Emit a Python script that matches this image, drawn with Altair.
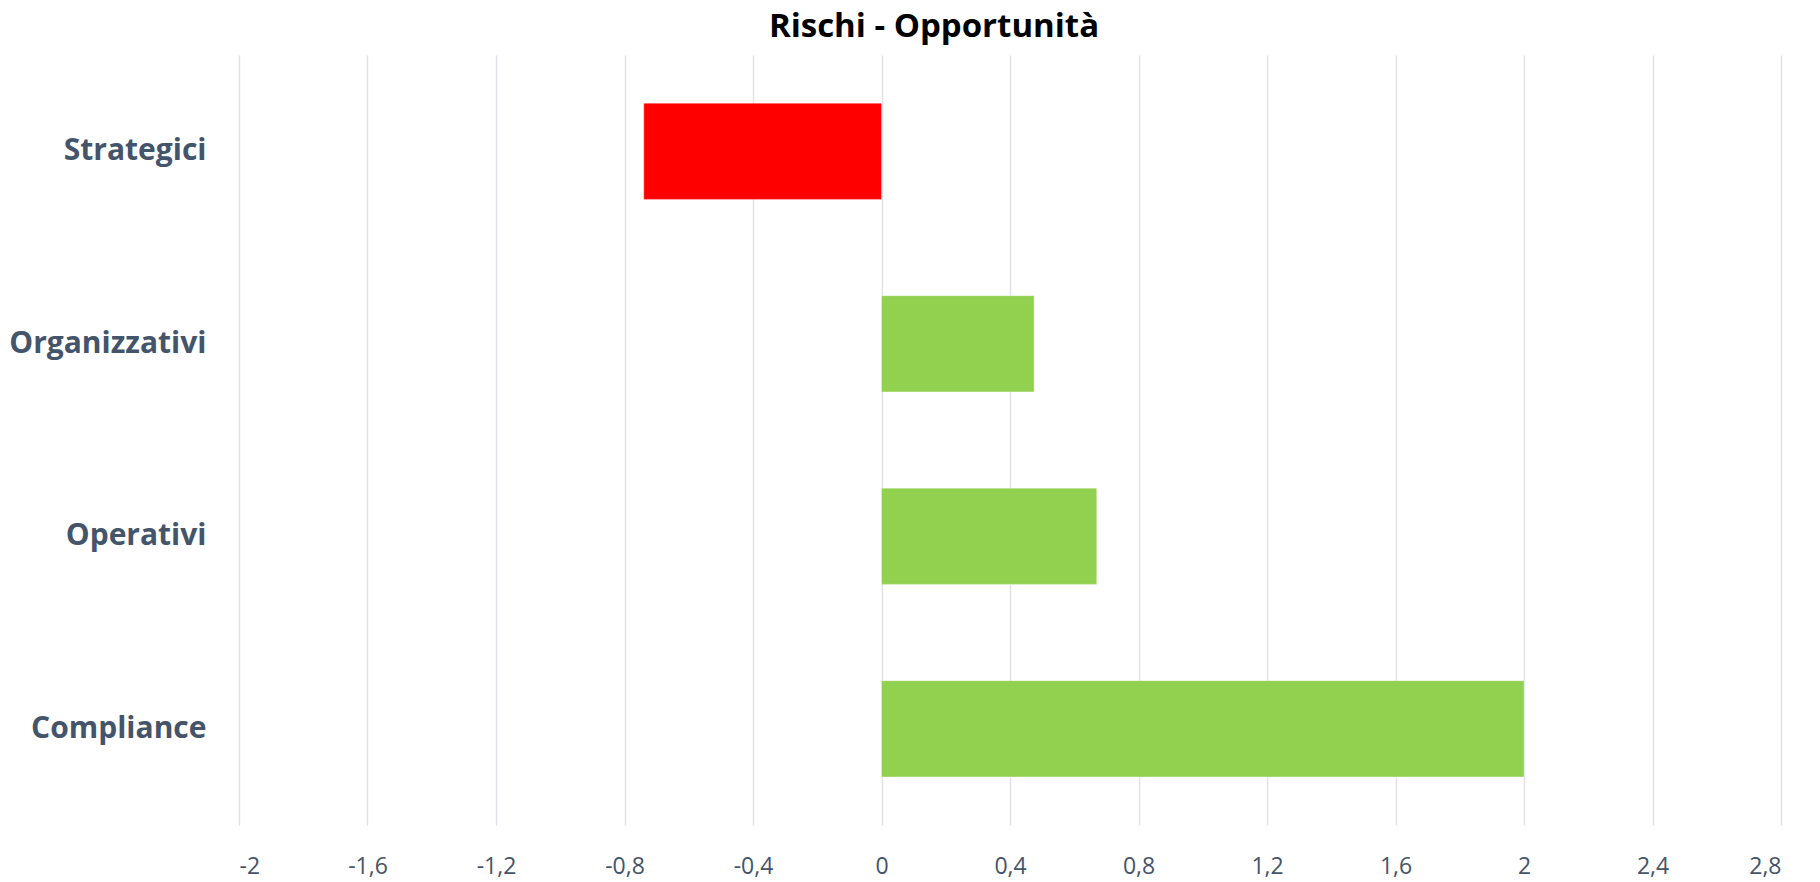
import altair as alt
import pandas as pd

categorie = ["Strategici", "Organizzativi", "Operativi", "Compliance"]
valori = [-0.74, 0.475, 0.67, 2.0]
x_ticks = [-2, -1.6, -1.2, -0.8, -0.4, 0, 0.4, 0.8, 1.2, 1.6, 2, 2.4, 2.8]

df = pd.DataFrame({"categoria": categorie, "valore": valori})

label_color = "#44546A"

bars = alt.Chart(df).mark_bar(stroke="#FFFFFF", strokeOpacity=0.35, strokeWidth=1).encode(
    y=alt.Y(
        "categoria:N",
        sort=categorie,
        title=None,
        scale=alt.Scale(paddingInner=0.5, paddingOuter=0.25),
        axis=alt.Axis(
            ticks=False,
            domain=False,
            grid=False,
            labelPadding=33,
            labelLimit=400,
            labelFont="Open Sans",
            labelFontWeight="bold",
            labelFontSize=30,
            labelColor=label_color,
        ),
    ),
    x=alt.X(
        "valore:Q",
        title=None,
        scale=alt.Scale(domain=[-2, 2.8], nice=False, zero=False),
        axis=alt.Axis(
            values=x_ticks,
            ticks=False,
            domain=False,
            grid=True,
            gridColor="#E0E2E8",
            gridWidth=1.5,
            labelPadding=30,
            labelFont="Open Sans",
            labelFontSize=23,
            labelColor=label_color,
            labelExpr="replace(replace(format(datum.value, '~g'), '.', ','), '\u2212', '-')",
        ),
    ),
    x2=alt.datum(0),
    color=alt.condition(alt.datum.valore < 0, alt.value("#FF0000"), alt.value("#92D050")),
)

chart = bars.properties(
    width=1542,
    height=770,
    background="#FFFFFF",
    title=alt.TitleParams(
        "Rischi - Opportunità",
        font="Open Sans",
        fontSize=33,
        fontWeight="bold",
        color="#000000",
        anchor="middle",
        dx=-76,
        dy=32,
        baseline="alphabetic",
        offset=17,
    ),
    autosize=alt.AutoSizeParams(type="none"),
    padding={"left": 239, "top": 55, "right": 39, "bottom": 57},
).configure_view(strokeWidth=0, stroke="transparent")

chart.save("out.html", embed_options={"renderer": "svg", "actions": False})
